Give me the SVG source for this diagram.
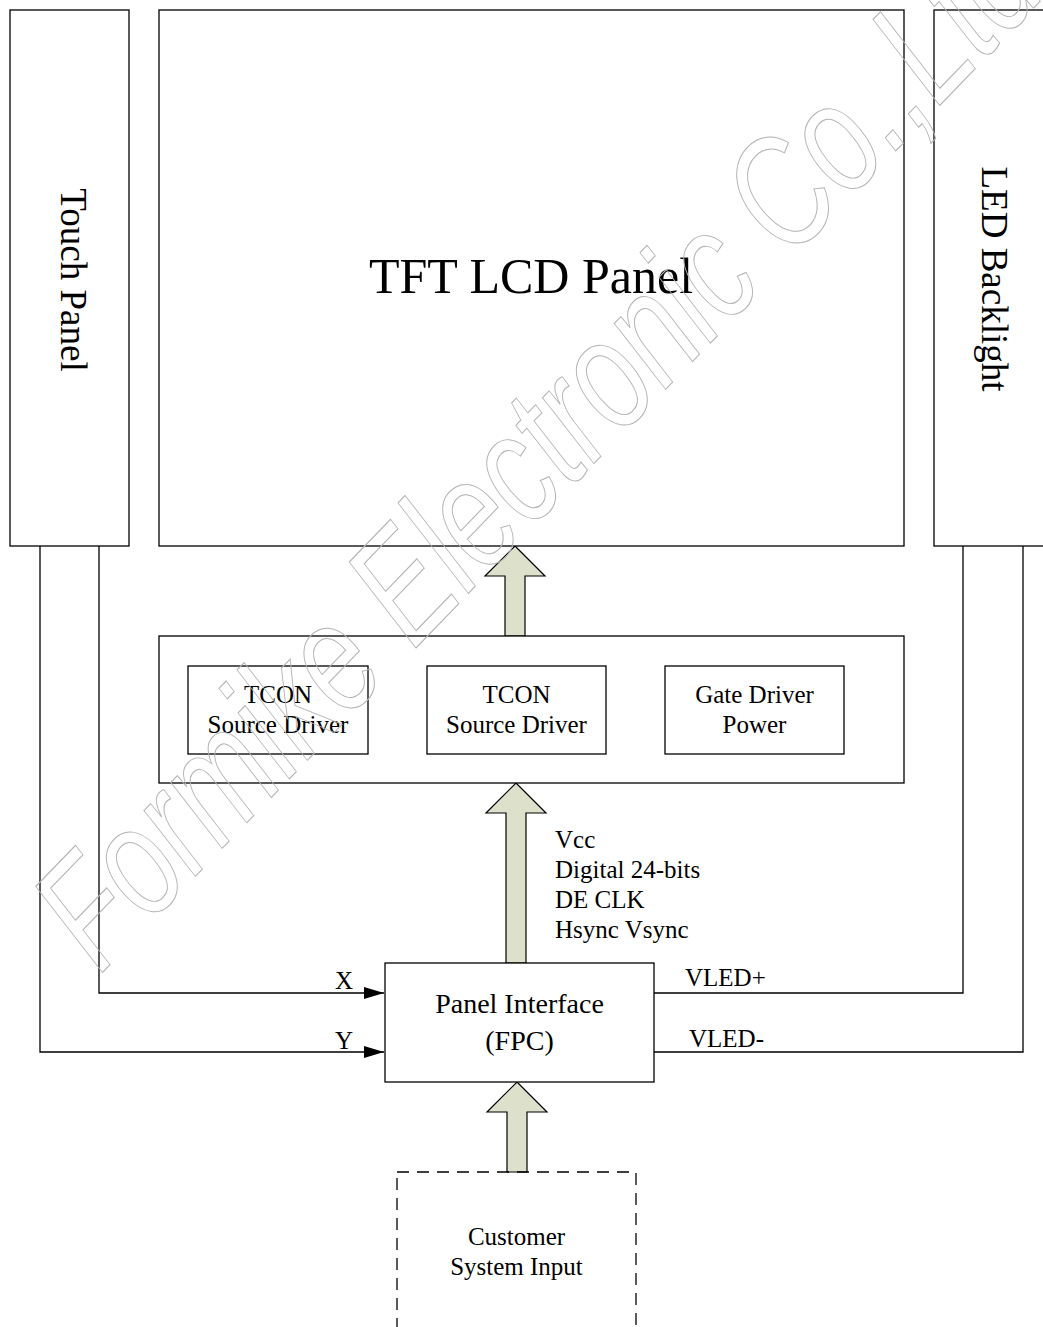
<svg xmlns="http://www.w3.org/2000/svg" width="1043" height="1327" viewBox="0 0 1043 1327">
<style>
.box{fill:#fff;stroke:#000;stroke-width:1.3}
.ln{fill:none;stroke:#000;stroke-width:1.3}
.t{font-family:"Liberation Serif","Times New Roman",serif;fill:#000}
.s{font-size:25px}
.blk{fill:#dde1cb;stroke:#000;stroke-width:1.2}
.wm{font-family:"Liberation Sans",Arial,sans-serif;font-style:italic;font-size:116px;fill:none;stroke:#b4b4b4;stroke-width:0.8}
</style>
<defs>
<marker id="ah" markerWidth="20" markerHeight="12" refX="20" refY="6" orient="auto" markerUnits="userSpaceOnUse">
<path d="M0,0 L20,6 L0,12 Z" fill="#000"/>
</marker>
</defs>
<rect width="1043" height="1327" fill="#fff"/>
<g id="connectors">
<polyline class="ln" points="99,546 99,993 384,993" marker-end="url(#ah)"/>
<polyline class="ln" points="40,546 40,1052 384,1052" marker-end="url(#ah)"/>
<polyline class="ln" points="654,993 963,993 963,546"/>
<polyline class="ln" points="654,1052 1023,1052 1023,546"/>
<polygon class="blk" points="515,546 545,576 525,576 525,636 505,636 505,576 485,576"/>
<polygon class="blk" points="516,783 546,813 526,813 526,963 506,963 506,813 486,813"/>
<polygon class="blk" points="517,1082 547,1112 527,1112 527,1172 507,1172 507,1112 487,1112"/>
<text class="t s" x="335" y="989">X</text>
<text class="t s" x="335" y="1049">Y</text>
<text class="t s" x="685" y="986">VLED+</text>
<text class="t s" x="689" y="1047">VLED-</text>
<text class="t s" x="555" y="848">Vcc</text>
<text class="t s" x="555" y="878">Digital 24-bits</text>
<text class="t s" x="555" y="908">DE CLK</text>
<text class="t s" x="555" y="938">Hsync Vsync</text>
</g>
<g id="touch">
<rect class="box" x="10" y="10" width="119" height="536"/>
<text class="t" font-size="37" text-anchor="middle" transform="translate(61,280) rotate(90)">Touch Panel</text>
</g>
<g id="tft">
<rect class="box" x="159" y="10" width="745" height="536"/>
<text class="t" font-size="50" text-anchor="middle" x="531" y="293">TFT LCD Panel</text>
</g>
<g id="led">
<rect class="box" x="934" y="10" width="120" height="536"/>
<text class="t" font-size="37" text-anchor="middle" transform="translate(982,279) rotate(90)">LED Backlight</text>
</g>
<g id="drivers">
<rect class="box" x="159" y="636" width="745" height="147"/>
</g>
<g id="tcon1">
<rect class="box" x="188" y="666" width="180" height="88"/>
<text class="t s" text-anchor="middle" x="278" y="703">TCON</text>
<text class="t s" text-anchor="middle" x="278" y="733">Source Driver</text>
</g>
<g id="tcon2">
<rect class="box" x="427" y="666" width="179" height="88"/>
<text class="t s" text-anchor="middle" x="516.5" y="703">TCON</text>
<text class="t s" text-anchor="middle" x="516.5" y="733">Source Driver</text>
</g>
<g id="gate">
<rect class="box" x="665" y="666" width="179" height="88"/>
<text class="t s" text-anchor="middle" x="754.5" y="703">Gate Driver</text>
<text class="t s" text-anchor="middle" x="754.5" y="733">Power</text>
</g>
<g id="fpc">
<rect class="box" x="385" y="963" width="269" height="119"/>
<text class="t" font-size="28" text-anchor="middle" x="519.5" y="1013">Panel Interface</text>
<text class="t" font-size="28" text-anchor="middle" x="519.5" y="1050">(FPC)</text>
</g>
<g id="customer">
<rect x="397" y="1172" width="239" height="170" fill="none" stroke="#000" stroke-width="1.3" stroke-dasharray="12,8"/>
<text class="t s" text-anchor="middle" x="516.5" y="1245">Customer</text>
<text class="t s" text-anchor="middle" x="516.5" y="1275">System Input</text>
</g>
<text class="wm" transform="translate(100,975) rotate(-46) scale(1,1.35)">Formike Electronic Co.,Ltd</text>
</svg>
